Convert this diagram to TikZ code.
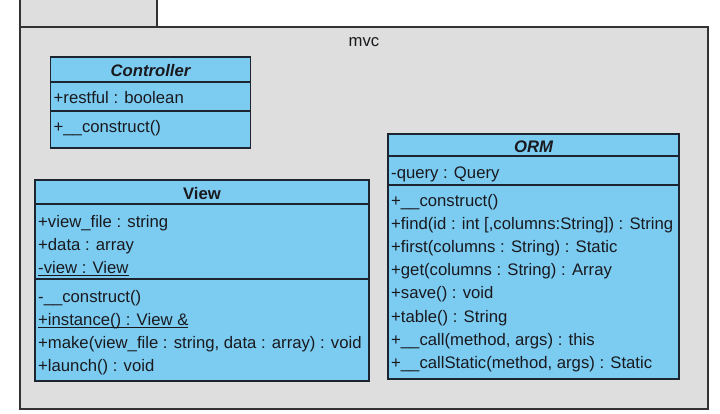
\documentclass[tikz,border=0pt]{standalone}
\usepackage{fontspec}
\setmainfont{Liberation Sans}
\definecolor{pkgfill}{RGB}{222,222,222}
\definecolor{clsfill}{RGB}{124,204,242}
\definecolor{clsline}{RGB}{28,36,48}
\definecolor{pkgline}{RGB}{50,50,50}
\definecolor{txtcol}{RGB}{25,25,30}
\newcommand\umline[1]{\setbox0\hbox{#1}\rlap{\rule[-2.8pt]{\wd0}{0.9pt}}\box0}
\tikzset{
  pkg/.style={draw=pkgline, fill=pkgfill, line width=1.4pt},
  cls/.style={draw=clsline, fill=clsfill, line width=1.2pt},
  divider/.style={draw=clsline, line width=1.2pt},
  row/.style={anchor=west, inner sep=0pt, text height=12pt, text depth=3.5pt,
    font=\fontsize{16.7}{20}\selectfont, text=txtcol, yshift=-1.8pt},
  head/.style={row, anchor=center},
}
\begin{document}
\begin{tikzpicture}[x=1pt,y=-1pt]
\useasboundingbox (0,0) rectangle (720,414);
% package tab and body
\path[pkg] (20,-5) rectangle (157,27);
\path[pkg] (20,27) rectangle (708,409);
\node[head] (mvc) at (364,40.5) {mvc};
% Controller
\path[cls] (50.5,57) rectangle (250.5,148);
\draw[divider] (50.5,82) -- (250.5,82);
\draw[divider] (50.5,111) -- (250.5,111);
\node[head, font=\fontsize{16.7}{20}\selectfont\bfseries\itshape] (ctrlname) at (150.5,70.5) {Controller};
\node[row] (ctrla1) at (53.5,97) {+restful : boolean};
\node[row] (ctrlo1) at (53.5,126.5) {+\_\_construct()};
% View
\path[cls] (35,180) rectangle (369,381);
\draw[divider] (35,204) -- (369,204);
\draw[divider] (35,279) -- (369,279);
\node[head, font=\fontsize{16.7}{20}\selectfont\bfseries] (viewname) at (202,193) {View};
\node[row] (viewa1) at (38,221.5) {+view\_file : string};
\node[row] (viewa2) at (38,244.5) {+data : array};
\node[row] (viewa3) at (38,267.5) {\umline{-view : View}};
\node[row] (viewo1) at (38,296.5) {-\_\_construct()};
\node[row] (viewo2) at (38,319.5) {\umline{+instance() : View \&}};
\node[row] (viewo3) at (38,342.5) {+make(view\_file : string, data : array) : void};
\node[row] (viewo4) at (38,365.5) {+launch() : void};
% ORM
\path[cls] (388,134) rectangle (679,379);
\draw[divider] (388,156) -- (679,156);
\draw[divider] (388,185) -- (679,185);
\node[head, font=\fontsize{16.7}{20}\selectfont\bfseries\itshape] (ormname) at (533.5,146.5) {ORM};
\node[row] (orma1) at (391,172.5) {-query : Query};
\node[row] (ormo1) at (391,200.5) {+\_\_construct()};
\node[row] (ormo2) at (391,223.6) {+find(id : int [,columns:String]) : String};
\node[row] (ormo3) at (391,246.7) {+first(columns : String) : Static};
\node[row] (ormo4) at (391,269.8) {+get(columns : String) : Array};
\node[row] (ormo5) at (391,292.9) {+save() : void};
\node[row] (ormo6) at (391,316.0) {+table() : String};
\node[row] (ormo7) at (391,339.1) {+\_\_call(method, args) : this};
\node[row] (ormo8) at (391,362.2) {+\_\_callStatic(method, args) : Static};
\end{tikzpicture}
\end{document}
